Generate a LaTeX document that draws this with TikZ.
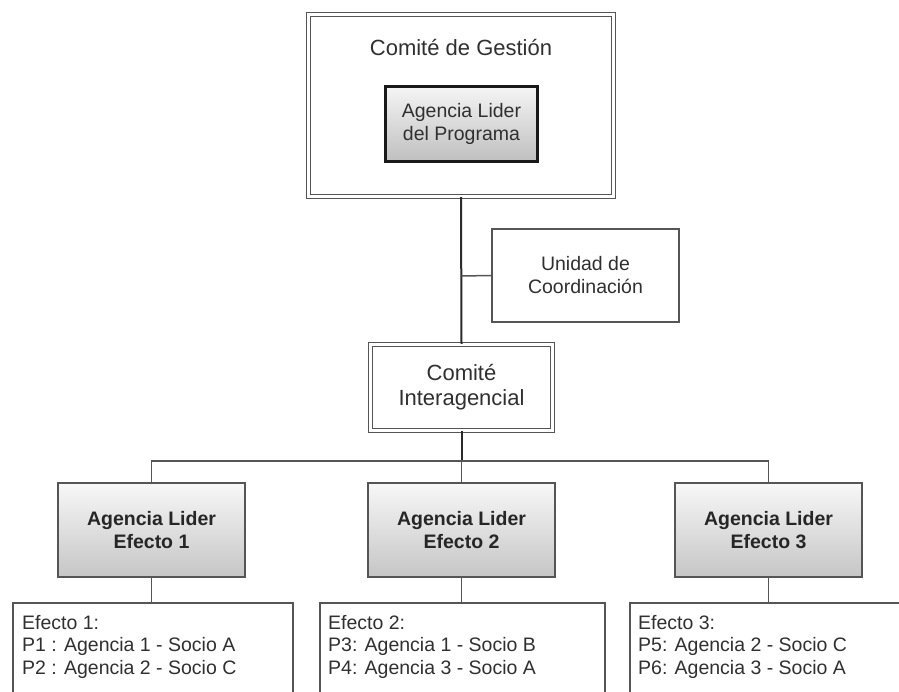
\documentclass[tikz,border=0pt]{standalone}
\usepackage{fontspec}
\setmainfont{Liberation Sans}
\definecolor{linec}{HTML}{555555}
\definecolor{trunkc}{HTML}{2A2A2A}
\definecolor{txtc}{HTML}{303030}
\tikzset{
  basefont/.style={font=\fontsize{19.5}{23}\selectfont, text=txtc},
  bigfont/.style={font=\fontsize{22}{25}\selectfont, text=txtc},
  dblbox/.style={draw=linec, line width=1.2pt, double=white, double distance=2.4pt, fill=white, inner sep=0pt},
  plainbox/.style={draw=linec, line width=1.5pt, fill=white, inner sep=0pt, align=center, basefont},
  gradbox/.style={draw=trunkc!80, line width=1.5pt, top color=gray!6, bottom color=gray!45, inner sep=0pt, align=center, basefont, font=\fontsize{19.5}{23}\selectfont\bfseries, text=black!85},
  progbox/.style={draw=black!90, line width=2.2pt, top color=gray!8, bottom color=gray!50, inner sep=0pt, align=center, basefont},
  conn/.style={draw=linec, line width=1.5pt},
  trunk/.style={draw=trunkc, line width=2pt},
  efftext/.style={font=\fontsize{19.5}{22.5}\selectfont, text=txtc, anchor=north west, inner sep=0pt, align=left},
}
\begin{document}
\begin{tikzpicture}[x=1pt, y=-1pt]
\useasboundingbox (0,0) rectangle (899,692);
\clip (0,0) rectangle (899,692);
\fill[white] (0,0) rectangle (899,692);

\node[dblbox, minimum width=305pt, minimum height=182pt] (gest) at (461,105.5) {};
\node[bigfont] (gestt) at (461,48) {Comité de Gestión};
\node[progbox, minimum width=152pt, minimum height=75pt] (prog) at (461.5,124) {Agencia Lider\\del Programa};

\node[plainbox, minimum width=187pt, minimum height=93pt] (unidad) at (585.5,275.5) {Unidad de\\Coordinación};

\node[dblbox, minimum width=182pt, minimum height=86pt, align=center, bigfont] (inter) at (461.5,387.5) {Comité\\Interagencial};

\node[gradbox, minimum width=187pt, minimum height=94pt] (ale1) at (151.5,530) {Agencia Lider\\Efecto 1};
\node[gradbox, minimum width=187pt, minimum height=94pt] (ale2) at (461.5,530) {Agencia Lider\\Efecto 2};
\node[gradbox, minimum width=187pt, minimum height=94pt] (ale3) at (768.5,530) {Agencia Lider\\Efecto 3};

\node[plainbox, anchor=north west, minimum width=280pt, minimum height=150pt] (eff1) at (12,602) {};
\node[plainbox, anchor=north west, minimum width=285pt, minimum height=150pt] (eff2) at (319,602) {};
\node[plainbox, anchor=north west, minimum width=320pt, minimum height=150pt] (eff3) at (629,602) {};

\node[efftext] (eff1t) at (22,615) {Efecto 1:\\P1 : Agencia 1 - Socio A\\P2 : Agencia 2 - Socio C};
\node[efftext] (eff2t) at (328,615) {Efecto 2:\\P3: Agencia 1 - Socio B\\P4: Agencia 3 - Socio A};
\node[efftext] (eff3t) at (638,615) {Efecto 3:\\P5: Agencia 2 - Socio C\\P6: Agencia 3 - Socio A};

\coordinate (bus) at (461.5,461);
\coordinate (tap) at (461.5,276);

\draw[trunk] (gest.south) -- (inter.north);
\draw[conn] (tap) -- (unidad.west);
\draw[trunk] (inter.south) -- (bus);
\draw[conn] (ale1.north) |- (bus) -| (ale3.north);
\draw[conn] (bus) -- (ale2.north);
\draw[conn] (ale1.south) -- (eff1.north -| ale1.south);
\draw[conn] (ale2.south) -- (eff2.north -| ale2.south);
\draw[conn] (ale3.south) -- (eff3.north -| ale3.south);
\end{tikzpicture}
\end{document}
